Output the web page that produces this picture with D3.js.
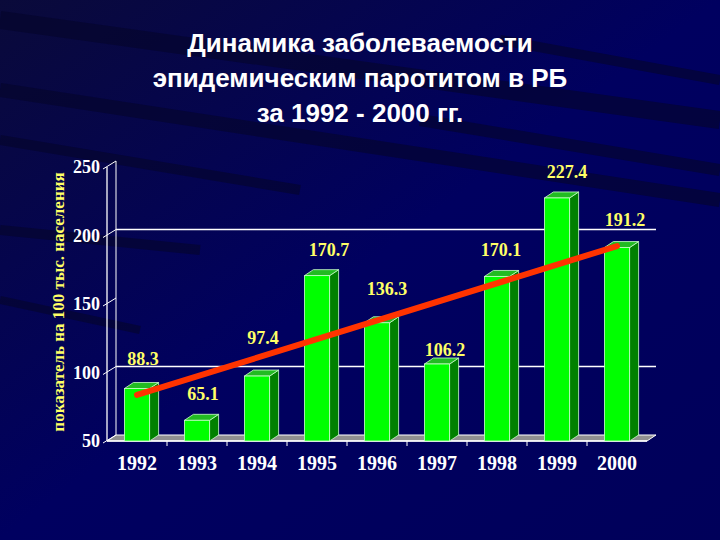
<!DOCTYPE html>
<html><head><meta charset="utf-8">
<script src="https://cdn.jsdelivr.net/npm/d3@7"></script>
<style>body{margin:0;background:#000050}</style></head>
<body><svg id="c" width="720" height="540"></svg>
<script>
const years=["1992","1993","1994","1995","1996","1997","1998","1999","2000"];
const values=[88.3,65.1,97.4,170.7,136.3,106.2,170.1,227.4,191.2];
const yTicks=[50,100,150,200,250];
const gridVals=[100,200];
const trend=[83.6,192.3];
const titleLines=["Динамика заболеваемости","эпидемическим паротитом в РБ","за 1992 - 2000 гг."];

const svg=d3.select("#c");
const defs=svg.append("defs");
const g0=defs.append("linearGradient").attr("id","bg").attr("x1",0).attr("y1",0).attr("x2",1).attr("y2",1);
g0.append("stop").attr("offset",0).attr("stop-color","#0a0a3a");
g0.append("stop").attr("offset",0.5).attr("stop-color","#000060");
g0.append("stop").attr("offset",1).attr("stop-color","#00005a");
svg.append("rect").attr("width",720).attr("height",540).attr("fill","url(#bg)");
[[0,20,720,120,18],[0,90,720,200,14],[0,230,200,250,10],[0,140,300,190,10],[0,300,140,330,8],[420,120,720,170,12],[500,40,720,80,10]].forEach(s=>{
 svg.append("line").attr("x1",s[0]).attr("y1",s[1]).attr("x2",s[2]).attr("y2",s[3]).attr("stroke","#05052a").attr("stroke-width",s[4]).attr("opacity",0.6);
});

const dx=9,dy=6;
const x=d3.scaleBand().domain(years).range([107,647]).paddingInner(0.58).paddingOuter(0.29);
const y=d3.scaleLinear().domain([50,250]).range([441,167]);

svg.append("path").attr("d",`M107,441 L${107+dx},${441-dy} L${647+dx},${441-dy} L647,441Z`).attr("fill","#909090").attr("stroke","#fff").attr("stroke-width",1);
gridVals.forEach(v=>svg.append("line").attr("x1",107+dx).attr("x2",647+dx).attr("y1",y(v)-dy).attr("y2",y(v)-dy).attr("stroke","#fff").attr("stroke-width",1.3));
svg.append("line").attr("x1",107+dx).attr("x2",107+dx).attr("y1",y(250)-dy).attr("y2",441-dy).attr("stroke","#fff");
svg.append("line").attr("x1",107).attr("x2",107).attr("y1",y(250)).attr("y2",441).attr("stroke","#fff").attr("stroke-width",1.3);
svg.append("line").attr("x1",107).attr("x2",647).attr("y1",441).attr("y2",441).attr("stroke","#fff").attr("stroke-width",1.3);
yTicks.forEach(v=>{
 svg.append("line").attr("x1",103).attr("y1",y(v)+2).attr("x2",107+dx).attr("y2",y(v)-dy).attr("stroke","#fff");
 svg.append("text").attr("x",100).attr("y",y(v)+6).attr("text-anchor","end").attr("fill","#fff").attr("font-family","Liberation Serif").attr("font-weight","bold").attr("font-size",18).text(v);
});
years.forEach((yr,i)=>{
 const bx=x(yr)+x.bandwidth()/2;
 if(i>0){const tx=x(yr)-x.step()*x.paddingInner()/2; svg.append("line").attr("x1",tx).attr("x2",tx).attr("y1",441).attr("y2",446).attr("stroke","#fff");}
 svg.append("text").attr("x",bx).attr("y",470).attr("text-anchor","middle").attr("fill","#fff").attr("font-family","Liberation Serif").attr("font-weight","bold").attr("font-size",20).text(yr);
});
const bars=svg.append("g");
years.forEach((yr,i)=>{
 const v=values[i],x0=x(yr),w=x.bandwidth(),yt=y(v),yb=441;
 bars.append("path").attr("d",`M${x0+w},${yb} L${x0+w+dx},${yb-dy} L${x0+w+dx},${yt-dy} L${x0+w},${yt}Z`).attr("fill","#008000").attr("stroke","#cfc").attr("stroke-width",0.8);
 bars.append("path").attr("d",`M${x0},${yt} L${x0+dx},${yt-dy} L${x0+w+dx},${yt-dy} L${x0+w},${yt}Z`).attr("fill","#22bb22").attr("stroke","#cfc").attr("stroke-width",0.8);
 bars.append("rect").attr("x",x0).attr("y",yt).attr("width",w).attr("height",yb-yt).attr("fill","#00ff00").attr("stroke","#cfc").attr("stroke-width",0.8);
});
const lblOff=[[6,-24],[6,-20],[6,-32],[12,-20],[10,-28],[8,-8],[4,-20],[10,-20],[8,-22]];
years.forEach((yr,i)=>{
 const bx=x(yr)+x.bandwidth()/2;
 svg.append("text").attr("x",bx+lblOff[i][0]).attr("y",y(values[i])+lblOff[i][1]).attr("text-anchor","middle").attr("fill","#ffff66").attr("font-family","Liberation Serif").attr("font-weight","bold").attr("font-size",18).text(values[i].toFixed(1));
});
const c0=x(years[0])+x.bandwidth()/2, c1=x(years[8])+x.bandwidth()/2;
svg.append("line").attr("x1",c0).attr("y1",y(trend[0])).attr("x2",c1).attr("y2",y(trend[1])).attr("stroke","#ff3300").attr("stroke-width",6).attr("stroke-linecap","round");
titleLines.forEach((t,i)=>svg.append("text").attr("x",360).attr("y",52+i*35).attr("text-anchor","middle").attr("fill","#fff").attr("font-family","Liberation Sans").attr("font-weight","bold").attr("font-size",26).text(t));
svg.append("text").attr("transform","translate(64,302) rotate(-90)").attr("text-anchor","middle").attr("fill","#ffff66").attr("font-family","Liberation Serif").attr("font-weight","bold").attr("font-size",17).text("показатель на 100 тыс. населения");
</script></body></html>
